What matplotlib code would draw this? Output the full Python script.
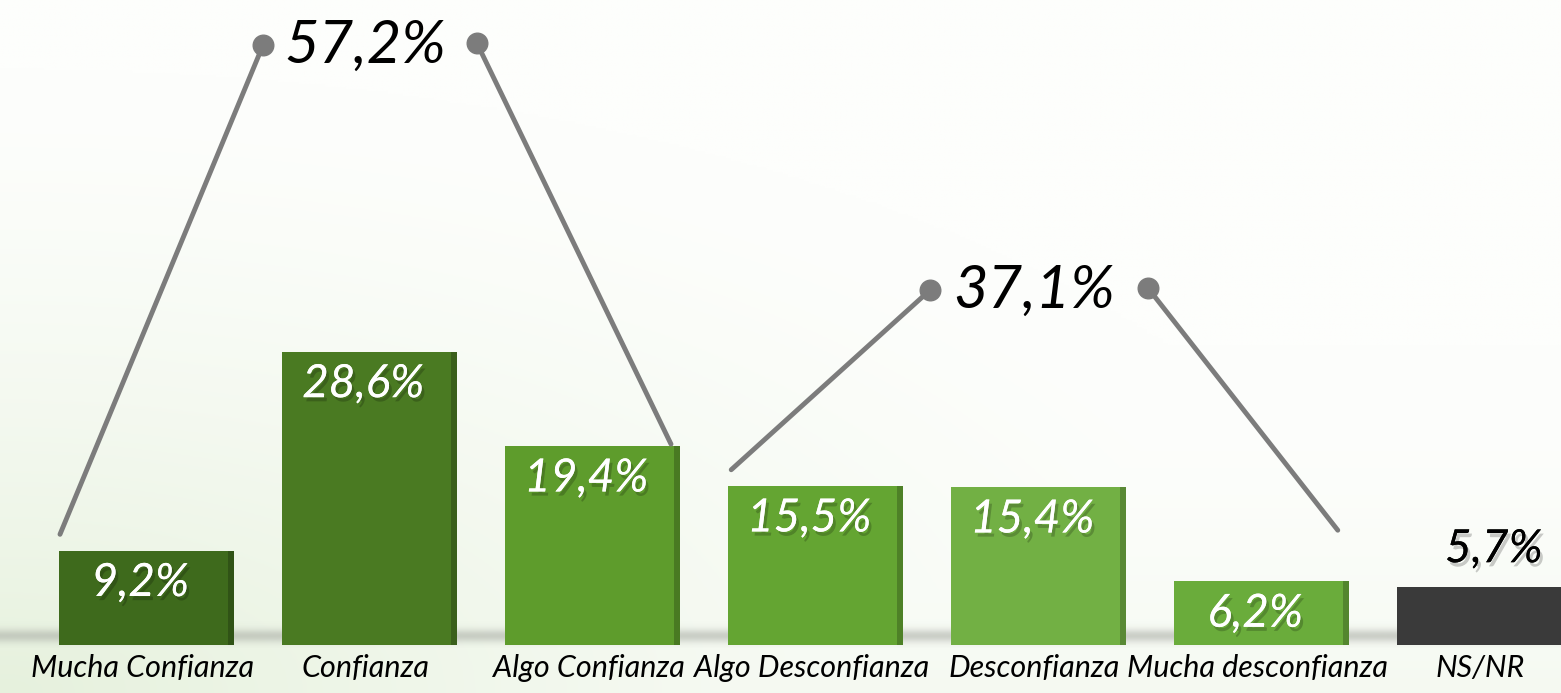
import numpy as np
import matplotlib
matplotlib.use("Agg")
import matplotlib.pyplot as plt
import matplotlib.patheffects as pe
from matplotlib.colors import to_rgb

# ---------------- data ----------------
categories = ["Mucha Confianza", "Confianza", "Algo Confianza", "Algo Desconfianza",
              "Desconfianza", "Mucha desconfianza", "NS/NR"]
values = [9.2, 28.6, 19.4, 15.5, 15.4, 6.2, 5.7]
value_labels = ["9,2%", "28,6%", "19,4%", "15,5%", "15,4%", "6,2%", "5,7%"]
bar_colors = ["#3e6a1c", "#4a7a22", "#5e9c2c", "#64a532", "#72b044", "#6aac3b", "#3a3a3a"]
group_labels = ["57,2%", "37,1%"]
group_members = [(0, 2), (3, 5)]

# ---------------- figure ----------------
W, H = 1561, 693
fig = plt.figure(figsize=(W / 100, H / 100), dpi=100)
ax = fig.add_axes([0, 0, 1, 1])
XL, XR, YB, YT = -0.659, 6.341, -4.68, 62.93
ax.set_xlim(XL, XR)
ax.set_ylim(YB, YT)
ax.axis("off")

# background gradient: faint green towards the bottom-left
gx = np.linspace(0, 1, 300)
gy = np.linspace(0, 1, 300)
GX, GY = np.meshgrid(gx, gy)
t = np.clip(1 - np.sqrt((GX / 0.9) ** 2 + (GY / 0.9) ** 2), 0, 1) ** 1.5
t = np.maximum(t, 0.35 * np.clip(1 - GY / 0.5, 0, 1) ** 2)
c0 = np.array(to_rgb("#fdfefc"))
c1 = np.array(to_rgb("#e6f1dd"))
img = c0[None, None, :] * (1 - t[..., None]) + c1[None, None, :] * t[..., None]
ax.imshow(img, extent=[XL, XR, YB, YT], origin="lower", aspect="auto", zorder=0)

# floor band (grey)
band = np.linspace(0, 1, 50)
prof = np.exp(-((band - 0.55) / 0.25) ** 2)
floor_img = np.ones((50, 2, 4))
floor_img[..., :3] = np.array(to_rgb("#a8aca4"))
floor_img[..., 3] = (prof * 0.55)[:, None]
ax.imshow(floor_img, extent=[XL, XR, -0.3, 2.3], origin="upper", aspect="auto", zorder=1)

x = np.arange(len(categories))
w = 0.785
ax.bar(x, values, width=w, color=bar_colors, zorder=2)

# 3D side shading
side_w = 0.03
side_cols = [tuple(ch * 0.78 for ch in to_rgb(c)) for c in bar_colors]
ax.bar(x + w / 2 - side_w / 2, values, width=side_w, color=side_cols, zorder=3)

shadow = [pe.withSimplePatchShadow(offset=(2, -3), shadow_rgbFace="black", alpha=0.2),
          pe.Normal()]

font = "Lato"
for i, (v, lab) in enumerate(zip(values, value_labels)):
    if i == len(values) - 1:
        ax.text(x[i] + 0.04, v + 1.6, lab, ha="center", va="bottom", fontsize=33,
                style="italic", family=font, weight="normal", color="black", zorder=5,
                path_effects=shadow)
    else:
        ax.text(x[i] - 0.03, v - 1.1, lab, ha="center", va="top", fontsize=33,
                style="italic", family=font, weight="normal", color="white", zorder=5,
                path_effects=shadow)

for i, c in enumerate(categories):
    ax.text(x[i] - 0.02, -2.2, c, ha="center", va="center", fontsize=22, style="italic",
            family=font, color="black", zorder=5)

# group brackets
group_y = [58.5, 34.6]
group_dx = [0.48, 0.49]
line_kw = dict(color="#7c7c7c", lw=3.5, zorder=4, solid_capstyle="round")
end_offsets = [((-0.39, 1.6), (0.35, 0.2)), ((-0.38, 1.6), (0.34, 5.0))]
for gi, (a, b) in enumerate(group_members):
    cx = (x[a] + x[b]) / 2
    gy_ = group_y[gi]
    lx, rx = cx - group_dx[gi], cx + group_dx[gi]
    (ldx, ldy), (rdx, rdy) = end_offsets[gi]
    ax.plot([lx, x[a] + ldx], [gy_, values[a] + ldy], **line_kw)
    ax.plot([rx, x[b] + rdx], [gy_ + 0.2, values[b] + rdy], **line_kw)
    ax.scatter([lx, rx], [gy_, gy_ + 0.2], s=220, color="#7c7c7c", zorder=5)
    ax.text(cx - 0.02, gy_, group_labels[gi], ha="center", va="center", fontsize=43,
            style="italic", family=font, weight="normal", color="black", zorder=5)

fig.savefig("out.png", dpi=100)
